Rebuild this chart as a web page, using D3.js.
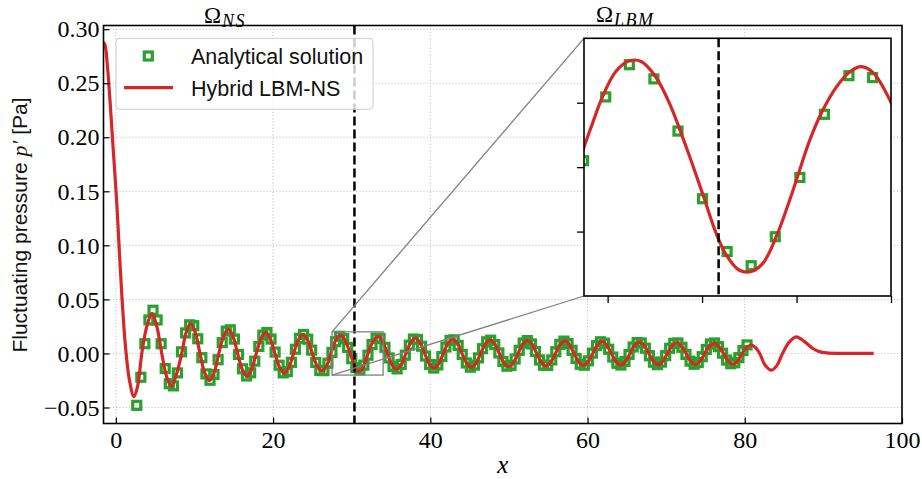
<!DOCTYPE html>
<html><head><meta charset="utf-8">
<script src="https://cdn.jsdelivr.net/npm/d3@7"></script>
<style>body{margin:0;background:#fff} svg{display:block}</style>
</head><body><svg id="c" width="922" height="479"></svg>
<script>
// ---------------- data ----------------
const pointX = [2.66,3.18,3.69,4.21,4.73,5.25,5.76,6.28,6.80,7.32,7.83,8.35,8.87,9.39,9.91,10.42,10.94,11.46,11.98,12.49,
13.01,13.53,14.05,14.56,15.08,15.60,16.12,16.63,17.15,17.67,18.19,18.70,19.22,19.74,20.26,20.77,21.29,21.81,22.33,22.84,
23.36,23.88,24.40,24.91,25.43,25.95,26.47,26.98,27.49,27.96,28.46,28.98,29.49,30.01,30.53,31.04,31.55,32.07,32.59,33.11,
33.61,34.23,34.75,35.26,35.78,36.30,36.82,37.33,37.85,38.37,38.89,39.40,39.92,40.44,40.96,41.47,41.99,42.51,43.03,43.54,
44.06,44.58,45.10,45.61,46.13,46.65,47.17,47.68,48.20,48.72,49.24,49.75,50.27,50.79,51.31,51.82,52.34,52.86,53.38,53.89,
54.41,54.93,55.45,55.96,56.48,57.00,57.52,58.03,58.55,59.07,59.59,60.10,60.62,61.14,61.66,62.17,62.69,63.21,63.73,64.24,
64.76,65.28,65.80,66.31,66.83,67.35,67.87,68.38,68.90,69.42,69.94,70.45,70.97,71.49,72.01,72.52,73.04,73.56,74.08,74.59,
75.11,75.63,76.15,76.66,77.18,77.70,78.22,78.73,79.25,79.77,80.29];
const pointY = [-0.048,-0.022,0.009,0.031,0.040,0.031,0.009,-0.014,-0.028,-0.030,-0.018,0.0015,0.019,0.0265,0.0257,0.0136,-0.0039,-0.0189,-0.0248,-0.0195,
-0.0058,0.0100,0.0207,0.0219,0.0133,-0.0009,-0.0142,-0.0208,-0.0179,-0.0071,0.0065,0.0169,0.0194,0.0133,0.0013,-0.0109,-0.0180,-0.0168,-0.0082,0.0039,
0.0140,0.0176,0.0132,0.0031,-0.0083,-0.0157,-0.0159,-0.0090,0.0010,0.0109,0.0159,0.0137,0.0056,-0.0049,-0.0131,-0.0153,-0.0108,-0.0016,0.0082,0.0142,
0.0139,0.0057,-0.0041,-0.0120,-0.0143,-0.0102,-0.0016,0.0077,0.0133,0.0129,0.0067,-0.0024,-0.0103,-0.0135,-0.0106,-0.0029,0.0060,0.0121,0.0126,0.0075,
-0.0009,-0.0088,-0.0127,-0.0108,-0.0041,0.0044,0.0108,0.0123,0.0082,0.0005,-0.0074,-0.0118,-0.0110,-0.0051,0.0029,0.0096,0.0119,0.0088,0.0018,-0.0060,
-0.0109,-0.0110,-0.0060,0.0016,0.0084,0.0114,0.0092,0.0029,-0.0046,-0.0100,-0.0109,-0.0068,0.0003,0.0072,0.0108,0.0095,0.0039,-0.0033,-0.0091,-0.0107,
-0.0074,-0.0009,0.0060,0.0101,0.0097,0.0049,-0.0021,-0.0081,-0.0104,-0.0080,-0.0020,0.0048,0.0094,0.0097,0.0057,-0.0009,-0.0071,-0.0100,-0.0084,-0.0030,
0.0037,0.0087,0.0097,0.0063,0.0002,-0.0061,-0.0095,-0.0086,-0.0039,0.0026,0.0079];

const lineX = [-1.57,-1.36,-1.05,-0.72,-0.30,0.12,0.46,0.80,1.05,1.31,1.73,2.30,2.78,3.30,3.93,4.60,5.22,5.84,6.47,7.05,7.74,8.38,8.94,
9.50,10.10,10.70,11.30,11.90,12.50,13.10,13.70,14.30,14.895,15.49,16.085,16.68,17.27,17.865,18.46,19.05,19.64,20.235,20.83,21.42,22.015,22.61,23.205,
23.80,24.40,25.00,25.60,26.20,26.80,
27.48,27.68,27.89,28.17,28.46,28.71,29.02,29.31,29.66,30.01,30.30,30.51,30.79,31.04,31.29,31.57,31.93,32.28,32.56,32.85,33.13,33.37,33.63,33.99,
34.55,35.13,35.72,36.31,36.91,37.50,38.10,38.69,39.285,39.88,40.47,41.06,41.66,42.25,42.85,43.44,44.035,44.63,45.22,45.81,46.41,47.00,
47.60,48.19,48.785,49.38,49.97,50.56,51.16,51.75,52.35,52.94,53.535,54.13,54.72,55.31,55.91,56.50,57.10,57.69,58.285,58.88,59.47,60.06,
60.66,61.25,61.85,62.44,63.035,63.63,64.22,64.81,65.41,66.00,66.60,67.19,67.785,68.38,68.97,69.56,70.16,70.75,71.35,71.94,72.535,73.13,
73.72,74.31,74.91,75.50,76.10,76.70,77.30,77.90,78.50,79.08,79.66,80.25,80.83,81.36,81.90,82.60,83.37,84.10,84.80,85.70,86.55,87.60,
88.67,89.50,90.40,92.00,94.00,96.40];
const lineY = [0.288,0.285,0.264,0.2315,0.185,0.139,0.0926,0.0494,0.022,0.0,-0.0247,-0.0400,-0.0300,0.0,0.0247,0.0370,0.0247,0.0,-0.0217,-0.0300,-0.0185,0.0,0.0194,
0.0275,0.0194,0.0,-0.0178,-0.0252,-0.0178,0.0,0.0157,0.0222,0.0157,0.0,-0.0148,-0.0210,-0.0148,0.0,0.0136,0.0192,0.0136,0.0,-0.0127,-0.0180,-0.0127,0.0,0.0123,
0.0174,0.0123,0.0,-0.0115,-0.0162,-0.0115,
0.0027,0.0068,0.0109,0.0148,0.0165,0.0164,0.0140,0.0099,0.0032,-0.0041,-0.0103,-0.0136,-0.0160,-0.0162,-0.0149,-0.0108,-0.0035,0.0042,0.0089,0.0125,0.0148,0.0156,0.0146,0.0102,
0.0,-0.0103,-0.0146,-0.0103,0.0,0.0100,0.0142,0.0100,0.0,-0.0096,-0.0136,-0.0096,0.0,0.0093,0.0131,0.0093,0.0,-0.0090,-0.0128,-0.0090,0.0,0.0088,
0.0124,0.0088,0.0,-0.0085,-0.0120,-0.0085,0.0,0.0085,0.0120,0.0085,0.0,-0.0081,-0.0115,-0.0081,0.0,0.0081,0.0114,0.0081,0.0,-0.0078,-0.0110,-0.0078,
0.0,0.0077,0.0109,0.0077,0.0,-0.0075,-0.0106,-0.0075,0.0,0.0074,0.0104,0.0074,0.0,-0.0074,-0.0104,-0.0074,0.0,0.0070,0.0099,0.0070,0.0,-0.0072,
-0.0102,-0.0072,0.0,0.0066,0.0094,0.0066,0.0,-0.0071,-0.0100,-0.0071,0.0,0.0055,0.0078,0.0055,0.0,-0.0110,-0.0155,-0.0110,0.0,0.0109,0.0154,0.0110,
0.0046,0.0017,0.0005,0.0001,0.0,0.0];

const xTicks = [0, 20, 40, 60, 80, 100];
const yTicks = [-0.05, 0.00, 0.05, 0.10, 0.15, 0.20, 0.25, 0.30];
const insetXTicks = [28, 30, 32, 34];
const insetYTicks = [-0.01, 0.00, 0.01];
const interfaceX = 30.35;
const legendLabels = ["Analytical solution", "Hybrid LBM-NS"];
const regionBase = ["\u03A9", "\u03A9"];
const regionSub = ["NS", "LBM"];
const yLabelParts = ["Fluctuating pressure ", "p\u2032", " [Pa]"];
const xLabelText = "x";

// ---------------- layout ----------------
const W = 922, H = 479;
const M = {l: 103.5, r: 902, t: 25.5, b: 423.5};
const IN = {l: 584, r: 891, t: 38.3, b: 296};
const GREEN = "#2ca02c", RED = "#d62728";
const SERIF = "'Liberation Serif', 'DejaVu Serif', serif";
const SANS = "'Liberation Sans', Arial, sans-serif";
const MK = 8, MKW = 3.2;

const svg = d3.select("#c");
svg.append("rect").attr("width", W).attr("height", H).attr("fill", "#fff");

const x = d3.scaleLinear().domain([-1.57, 100]).range([M.l, M.r]);
const y = d3.scaleLinear().domain([-0.0648, 0.3034]).range([M.b, M.t]);

const defs = svg.append("defs");
defs.append("clipPath").attr("id", "clipMain").append("rect")
  .attr("x", M.l).attr("y", M.t).attr("width", M.r - M.l).attr("height", M.b - M.t);
defs.append("clipPath").attr("id", "clipIn").append("rect")
  .attr("x", IN.l).attr("y", IN.t).attr("width", IN.r - IN.l).attr("height", IN.b - IN.t);

// grid
const grid = svg.append("g").attr("stroke", "#b0b0b0").attr("stroke-width", 0.9).attr("stroke-dasharray", "1,2.2");
grid.selectAll(".gx").data(xTicks).join("line")
  .attr("x1", d => x(d)).attr("x2", d => x(d)).attr("y1", M.t).attr("y2", M.b);
grid.selectAll(".gy").data(yTicks).join("line")
  .attr("x1", M.l).attr("x2", M.r).attr("y1", d => y(d)).attr("y2", d => y(d));

const pts = d3.range(pointX.length).map(i => [pointX[i], pointY[i]]);
const lpts = d3.range(lineX.length).map(i => [lineX[i], lineY[i]]);

function drawData(g, sx, sy, clipId) {
  const gg = g.append("g").attr("clip-path", `url(#${clipId})`);
  gg.selectAll("rect.pt").data(pts).join("rect").attr("class", "pt")
    .attr("x", d => sx(d[0]) - MK / 2).attr("y", d => sy(d[1]) - MK / 2)
    .attr("width", MK).attr("height", MK)
    .attr("fill", "none").attr("stroke", GREEN).attr("stroke-width", MKW);
  const line = d3.line().x(d => sx(d[0])).y(d => sy(d[1])).curve(d3.curveCatmullRom.alpha(0.5));
  gg.append("path").datum(lpts).attr("d", line)
    .attr("fill", "none").attr("stroke", RED).attr("stroke-width", 3.2).attr("stroke-linejoin", "round");
  gg.append("line").attr("x1", sx(interfaceX)).attr("x2", sx(interfaceX))
    .attr("y1", sy.range()[1]).attr("y2", sy.range()[0])
    .attr("stroke", "#000").attr("stroke-width", 2.5).attr("stroke-dasharray", "9,4");
}
drawData(svg, x, y, "clipMain");

// axes (ticks inward)
const ax = svg.append("g").attr("transform", `translate(0,${M.b})`)
  .call(d3.axisBottom(x).tickValues(xTicks).tickSize(-6).tickPadding(7).tickFormat(d3.format("d")));
const ay = svg.append("g").attr("transform", `translate(${M.l},0)`)
  .call(d3.axisLeft(y).tickValues(yTicks).tickSize(-6).tickPadding(4).tickFormat(d3.format(".2f")));
[ax, ay].forEach(a => {
  a.select(".domain").remove();
  a.selectAll(".tick line").attr("stroke", "#000").attr("stroke-width", 1.2);
  a.selectAll("text").attr("font-family", SERIF).attr("font-size", 24).attr("fill", "#000");
});
svg.append("rect").attr("x", M.l).attr("y", M.t).attr("width", M.r - M.l).attr("height", M.b - M.t)
  .attr("fill", "none").attr("stroke", "#000").attr("stroke-width", 1.6);

// zoom indicator
const ind = svg.append("g").attr("stroke", "#808080").attr("stroke-width", 1.3).attr("fill", "none");
const xi = d3.scaleLinear().domain([27.5, 34]).range([IN.l, IN.r]);
const yi = d3.scaleLinear().domain([-0.02, 0.02]).range([IN.b, IN.t]);
ind.append("rect").attr("x", x(xi.domain()[0])).attr("y", y(yi.domain()[1]))
  .attr("width", x(xi.domain()[1]) - x(xi.domain()[0])).attr("height", y(yi.domain()[0]) - y(yi.domain()[1]));
ind.append("line").attr("x1", x(xi.domain()[0])).attr("y1", y(yi.domain()[1])).attr("x2", IN.l).attr("y2", IN.t);
ind.append("line").attr("x1", x(xi.domain()[0])).attr("y1", y(yi.domain()[0])).attr("x2", IN.l).attr("y2", IN.b);

// legend
const lg = svg.append("g");
lg.append("rect").attr("x", 116).attr("y", 38.3).attr("width", 257).attr("height", 71).attr("rx", 4)
  .attr("fill", "#fff").attr("fill-opacity", 0.8).attr("stroke", "#cccccc").attr("stroke-width", 1);
lg.append("rect").attr("x", 148.3 - MK / 2).attr("y", 56 - MK / 2).attr("width", MK).attr("height", MK)
  .attr("fill", "none").attr("stroke", GREEN).attr("stroke-width", MKW);
lg.append("line").attr("x1", 124).attr("x2", 173).attr("y1", 87.7).attr("y2", 87.7)
  .attr("stroke", RED).attr("stroke-width", 3.2);
lg.selectAll("text").data(legendLabels).join("text")
  .attr("x", 191).attr("y", (d, i) => i === 0 ? 64 : 96)
  .attr("font-family", SANS).attr("font-size", 21.5).attr("fill", "#111").text(d => d);

// inset
const ig = svg.append("g");
ig.append("rect").attr("x", IN.l).attr("y", IN.t).attr("width", IN.r - IN.l).attr("height", IN.b - IN.t).attr("fill", "#fff");
drawData(ig, xi, yi, "clipIn");
const iax = ig.append("g").attr("transform", `translate(0,${IN.b})`)
  .call(d3.axisBottom(xi).tickValues(insetXTicks).tickSize(7).tickFormat(""));
const iay = ig.append("g").attr("transform", `translate(${IN.l},0)`)
  .call(d3.axisLeft(yi).tickValues(insetYTicks).tickSize(7).tickFormat(""));
[iax, iay].forEach(a => {
  a.select(".domain").remove();
  a.selectAll(".tick line").attr("stroke", "#000").attr("stroke-width", 1.3);
});
ig.append("rect").attr("x", IN.l).attr("y", IN.t).attr("width", IN.r - IN.l).attr("height", IN.b - IN.t)
  .attr("fill", "none").attr("stroke", "#000").attr("stroke-width", 1.6);

// region labels
const regionPos = [[204, 22.7], [596, 22]];
regionBase.forEach((b, i) => {
  const t = svg.append("text").attr("x", regionPos[i][0]).attr("y", regionPos[i][1])
    .attr("font-family", SERIF).attr("font-size", 23).attr("fill", "#000");
  t.append("tspan").text(b);
  t.append("tspan").attr("dx", 1).attr("dy", 4).attr("font-size", 18).attr("letter-spacing", 1.5)
    .attr("font-style", "italic").text(regionSub[i]);
});

// axis labels
const yl = svg.append("text").attr("transform", "translate(26.5,225) rotate(-90)")
  .attr("text-anchor", "middle").attr("font-family", SANS).attr("font-size", 21).attr("fill", "#111");
yl.append("tspan").text(yLabelParts[0]);
yl.append("tspan").attr("font-family", SERIF).attr("font-style", "italic").attr("font-size", 22).text(yLabelParts[1]);
yl.append("tspan").text(yLabelParts[2]);

svg.append("text").attr("x", (M.l + M.r) / 2).attr("y", 473).attr("text-anchor", "middle")
  .attr("font-family", SERIF).attr("font-style", "italic").attr("font-size", 25).attr("fill", "#000").text(xLabelText);
</script></body></html>
